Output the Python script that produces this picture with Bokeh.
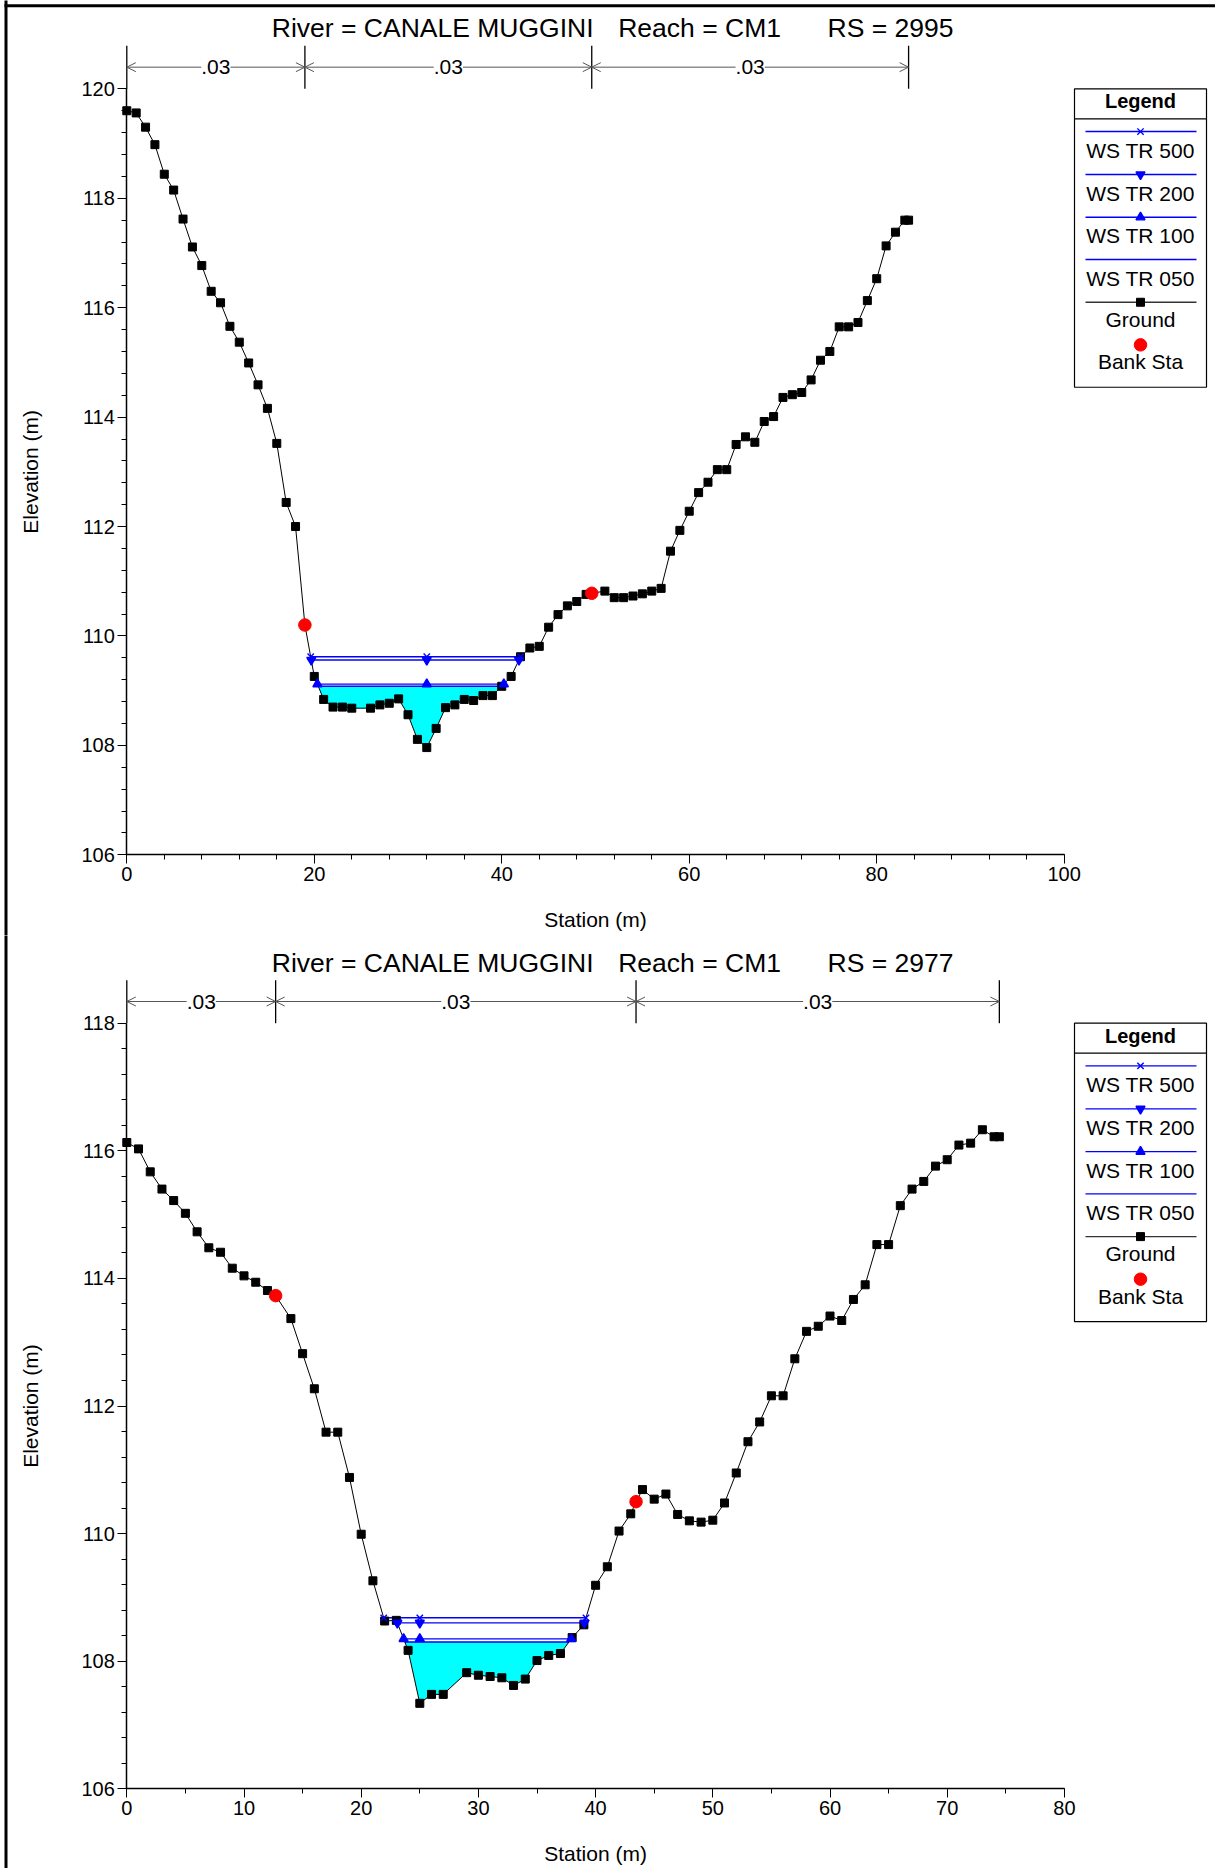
import numpy as np
from bokeh.plotting import figure
from bokeh.layouts import column
from bokeh.models import FixedTicker, Label, Arrow, OpenHead, Range1d
from bokeh.core.properties import value
from bokeh.embed import file_html
from bokeh.resources import INLINE

# ------------------------------------------------------------------ data
RIVER = "CANALE MUGGINI"
REACH = "CM1"
ws_names = ["WS TR 500", "WS TR 200", "WS TR 100", "WS TR 050"]

# RS 2995
rs_a = "2995"
sta_a = [0, 1, 2, 3, 4, 5, 6, 7, 8, 9, 10, 11, 12, 13, 14, 15, 16, 17, 18, 19, 20, 21, 22, 23, 24,
         26, 27, 28, 29, 30, 31, 32, 33, 34, 35, 36, 37, 38, 39, 40, 41, 42, 43, 44, 45, 46, 47, 48, 49,
         49.6,
         51, 52, 53, 54, 55, 56, 57, 58, 59, 60, 61, 62, 63, 64, 65, 66, 67, 68, 69, 70, 71, 72, 73, 74,
         75, 76, 77, 78, 79, 80, 81, 82, 83, 83.4]
elev_a = [119.60, 119.56, 119.30, 118.98, 118.44, 118.15, 117.62, 117.11, 116.77, 116.30, 116.09,
          115.66, 115.37, 114.99, 114.59, 114.16, 113.52, 112.44, 112.00, 110.20, 109.26, 108.84,
          108.70, 108.70, 108.68,
          108.68, 108.74, 108.77, 108.85, 108.56, 108.11, 107.96, 108.31, 108.69, 108.74, 108.84,
          108.82, 108.91, 108.91, 109.08, 109.26, 109.62, 109.78, 109.81, 110.16, 110.39, 110.55,
          110.63, 110.76,
          110.78,
          110.82, 110.70, 110.70, 110.73, 110.77, 110.82, 110.87, 111.55, 111.93, 112.28, 112.62,
          112.81, 113.04, 113.04, 113.50, 113.64, 113.54, 113.92, 114.01, 114.36, 114.41, 114.45,
          114.68, 115.04, 115.20, 115.65, 115.65, 115.73, 116.13, 116.53, 117.13, 117.38, 117.60,
          117.60]
bank_sta_a = [19.0, 49.6]
n_sta_a = [0.0, 19.0, 49.6, 83.4]
n_val_a = [".03", ".03", ".03"]
ws_a = [109.62, 109.56, 109.12, 109.08]

# RS 2977
rs_b = "2977"
sta_b = [0, 1, 2, 3, 4, 5, 6, 7, 8, 9, 10, 11, 12,
         12.7,
         14, 15, 16, 17, 18, 19, 20, 21, 22, 23, 24, 25, 26, 27,
         29, 30, 31, 32, 33, 34, 35, 36, 37, 38, 39, 40, 41, 42, 43,
         43.45,
         44, 45, 46, 47, 48, 49, 50, 51, 52, 53, 54, 55, 56, 57, 58, 59, 60, 61, 62, 63, 64, 65, 66,
         67, 68, 69, 70, 71, 72, 73, 74,
         74.45]
elev_b = [116.13, 116.03, 115.67, 115.40, 115.22, 115.02, 114.73, 114.48, 114.41, 114.16, 114.04,
          113.94, 113.81,
          113.73,
          113.37, 112.82, 112.27, 111.59, 111.59, 110.88, 109.99, 109.26, 108.63, 108.64, 108.17,
          107.34, 107.48, 107.48,
          107.82, 107.78, 107.76, 107.74, 107.62, 107.72, 108.01, 108.09, 108.12, 108.37, 108.57,
          109.19, 109.48, 110.04, 110.31,
          110.50,
          110.69, 110.54, 110.62, 110.30, 110.20, 110.18, 110.21, 110.48, 110.95, 111.44, 111.75,
          112.16, 112.16, 112.74, 113.17, 113.25, 113.41, 113.34, 113.67, 113.90, 114.53, 114.53,
          115.14, 115.40, 115.52, 115.76, 115.86, 116.09, 116.12, 116.33, 116.22,
          116.22]
bank_sta_b = [12.7, 43.45]
n_sta_b = [0.0, 12.7, 43.45, 74.45]
n_val_b = [".03", ".03", ".03"]
ws_b = [108.68, 108.60, 108.35, 108.30]

# ------------------------------------------------------------------ style
FONT = "Liberation Sans"
FIG_W = 1215
AX_X = 126.3          # page x of station 0
BLUE = "#0000FF"
WS_MARKERS = ["x", "inverted_triangle", "triangle", None]


def build(sta, elev, bank_sta, n_sta, n_val, ws, rs, x_max, x_step, x_mstep,
          y_lo, y_hi, xppu, yppu, fig_top, fig_h, axis_y, xlabel_drop, top_border):
    # axis_y: page y of the x axis (elevation y_lo); fig_top: page y of figure top
    ay = axis_y - fig_top
    x_range = Range1d(-AX_X / xppu, (FIG_W - AX_X) / xppu)
    y_range = Range1d(y_lo - (fig_h - ay) / yppu, y_lo + ay / yppu)
    p = figure(width=FIG_W, height=fig_h, x_range=x_range, y_range=y_range,
               output_backend="svg", toolbar_location=None,
               min_border_left=0, min_border_right=0, min_border_top=0, min_border_bottom=0,
               background_fill_color="white", border_fill_color="white")
    p.outline_line_color = None
    p.xgrid.visible = False
    p.ygrid.visible = False

    def X(px):  # page x -> data x
        return (px - AX_X) / xppu

    def Y(py):  # page y -> data y
        return y_lo - (py - axis_y) / yppu

    T = axis_y - (y_hi - y_lo) * yppu   # page y of top tick

    def txt(x, py, s, size, align="center", style="normal", angle=0.0):
        p.text(x=[x], y=[Y(py)], text=[s], angle=angle, text_font=value(FONT),
               text_font_size=value(size), text_font_style=value(style), text_align=align,
               text_baseline="middle", text_color="black")

    # axes drawn at station 0 / lowest elevation
    p.xaxis.fixed_location = y_lo
    p.yaxis.fixed_location = 0
    p.xaxis.ticker = FixedTicker(ticks=list(np.arange(0, x_max + 0.01, x_step)),
                                 minor_ticks=list(np.arange(0, x_max + 0.01, x_mstep)))
    p.yaxis.ticker = FixedTicker(ticks=list(np.arange(y_lo, y_hi + 0.01, 2.0)),
                                 minor_ticks=list(np.round(np.arange(y_lo, y_hi + 0.01, 0.4), 2)))
    p.xaxis.bounds = (0, x_max)
    p.yaxis.bounds = (y_lo, y_hi)
    for ax in (p.xaxis[0], p.yaxis[0]):
        ax.axis_label = None
        ax.axis_line_color = "black"
        ax.axis_line_width = 1.5
        ax.major_tick_line_color = "black"
        ax.major_tick_in = 0
        ax.major_tick_out = 9
        ax.minor_tick_line_color = "black"
        ax.minor_tick_in = 0
        ax.minor_tick_out = 5
        ax.major_label_text_font = FONT
        ax.major_label_text_font_size = "20px"
        ax.major_label_text_color = "black"
        ax.major_label_standoff = 3

    s = np.array(sta, dtype=float)
    e = np.array(elev, dtype=float)
    it = int(np.argmin(e))
    x_thal = s[it]

    def extent(w):
        i = it
        while i > 0 and e[i - 1] < w:
            i -= 1
        j = it
        while j < len(e) - 1 and e[j + 1] < w:
            j += 1
        xl = s[i - 1] + (e[i - 1] - w) / (e[i - 1] - e[i]) * (s[i] - s[i - 1])
        xr = s[j] + (w - e[j]) / (e[j + 1] - e[j]) * (s[j + 1] - s[j])
        return xl, xr, i, j

    # water fill (lowest profile)
    w0 = ws[-1]
    xl, xr, i, j = extent(w0)
    p.patch([xl] + list(s[i:j + 1]) + [xr], [w0] + list(e[i:j + 1]) + [w0],
            fill_color="#00FFFF", line_color=None)

    # water surfaces
    for w, m in zip(ws, WS_MARKERS):
        xl, xr, _, _ = extent(w)
        p.line([xl, xr], [w, w], line_color=BLUE, line_width=1.4)

    # ground
    p.line(sta, elev, line_color="black", line_width=1)
    p.scatter(sta, elev, marker="square", size=8, fill_color="black", line_color="black")

    # water surface markers
    for w, m in zip(ws, WS_MARKERS):
        xl, xr, _, _ = extent(w)
        if m:
            p.scatter([xl, x_thal, xr], [w, w, w], marker=m, size=9, line_color=BLUE,
                      fill_color=BLUE, line_width=1.4)

    # bank stations
    p.scatter(bank_sta, list(np.interp(bank_sta, s, e)), marker="circle", size=12.5,
              fill_color="#FF0000", line_color="#FF0000")

    # Manning's n dimension lines
    nb = len(n_sta)
    p.segment(x0=n_sta, y0=[Y(T)] * nb, x1=n_sta, y1=[Y(T - 43)] * nb, line_color="black",
              line_width=1.3)
    ya = Y(T - 21.7)
    for a, b in zip(n_sta[:-1], n_sta[1:]):
        p.add_layout(Arrow(x_start=a, y_start=ya, x_end=b, y_end=ya, line_color="#555555",
                           line_width=1,
                           start=OpenHead(size=9, line_color="#555555", line_width=1),
                           end=OpenHead(size=9, line_color="#555555", line_width=1)))
    for a, b, t in zip(n_sta[:-1], n_sta[1:], n_val):
        p.add_layout(Label(x=(a + b) / 2, y=ya, text=t, text_align="center",
                           text_baseline="middle", text_font=FONT, text_font_size="21px",
                           text_color="black", background_fill_color="white"))

    # title (three pieces, spaced as in the original)
    p.text(x=[X(271.3), X(617.7), X(827)], y=[Y(T - 60.6)] * 3,
           text=[f"River = {RIVER}", f"Reach = {REACH}", f"RS = {rs}"],
           text_font=value(FONT), text_font_size=value("26.5px"), text_align="left",
           text_baseline="middle", text_color="black")

    # axis titles
    txt(X(30.3), axis_y - (y_hi - y_lo) / 2 * yppu, "Elevation (m)", "21px", angle=np.pi / 2)
    txt(x_max / 2, axis_y + xlabel_drop, "Station (m)", "21px")

    # legend (drawn by hand: symbol above label)
    lx0, lx1, lc = X(1074), X(1206), X(1140)
    sx0, sx1 = X(1085), X(1196)
    p.quad(left=[lx0], right=[lx1], top=[Y(T)], bottom=[Y(T + 298.4)], fill_color="white",
           line_color="black", line_width=1.2)
    p.segment(x0=[lx0], y0=[Y(T + 30)], x1=[lx1], y1=[Y(T + 30)], line_color="black",
              line_width=1.2)
    txt(lc, T + 12.3, "Legend", "20px", style="bold")
    line_off = [42.7, 85.7, 128.4, 170.7]
    text_off = [61.5, 104.2, 146.9, 189.5]
    for name, m, lo, to in zip(ws_names, WS_MARKERS, line_off, text_off):
        p.line([sx0, sx1], [Y(T + lo), Y(T + lo)], line_color=BLUE, line_width=1.4)
        if m:
            p.scatter([lc], [Y(T + lo)], marker=m, size=9, line_color=BLUE, fill_color=BLUE,
                      line_width=1.4)
        txt(lc, T + to, name, "21px")
    p.line([sx0, sx1], [Y(T + 213.4), Y(T + 213.4)], line_color="#333333", line_width=1.4)
    p.scatter([lc], [Y(T + 213.4)], marker="square", size=8, fill_color="black",
              line_color="black")
    txt(lc, T + 230.2, "Ground", "21px")
    p.scatter([lc], [Y(T + 256)], marker="circle", size=12.5, fill_color="#FF0000",
              line_color="#FF0000")
    txt(lc, T + 272.9, "Bank Sta", "21px")

    # outer page frame (left edge, and top edge on the first panel)
    p.segment(x0=[X(5.5)], y0=[Y(fig_top - 10)], x1=[X(5.5)], y1=[Y(fig_top + fig_h + 10)],
              line_color="black", line_width=3)
    if top_border:
        p.segment(x0=[X(4)], y0=[Y(5.3)], x1=[X(FIG_W + 10)], y1=[Y(5.3)], line_color="black",
                  line_width=3)
    return p


H1, H2 = 935, 933
p1 = build(sta_a, elev_a, bank_sta_a, n_sta_a, n_val_a, ws_a, rs_a,
           x_max=100, x_step=20, x_mstep=4, y_lo=106, y_hi=120,
           xppu=9.374, yppu=54.71, fig_top=0, fig_h=H1, axis_y=854.3, xlabel_drop=64.8,
           top_border=True)
p2 = build(sta_b, elev_b, bank_sta_b, n_sta_b, n_val_b, ws_b, rs_b,
           x_max=80, x_step=10, x_mstep=5, y_lo=106, y_hi=118,
           xppu=11.72, yppu=63.8, fig_top=H1, fig_h=H2, axis_y=1788.3, xlabel_drop=64.8,
           top_border=False)

layout = column(p1, p2)
open("out.html", "w").write(file_html(layout, INLINE))
